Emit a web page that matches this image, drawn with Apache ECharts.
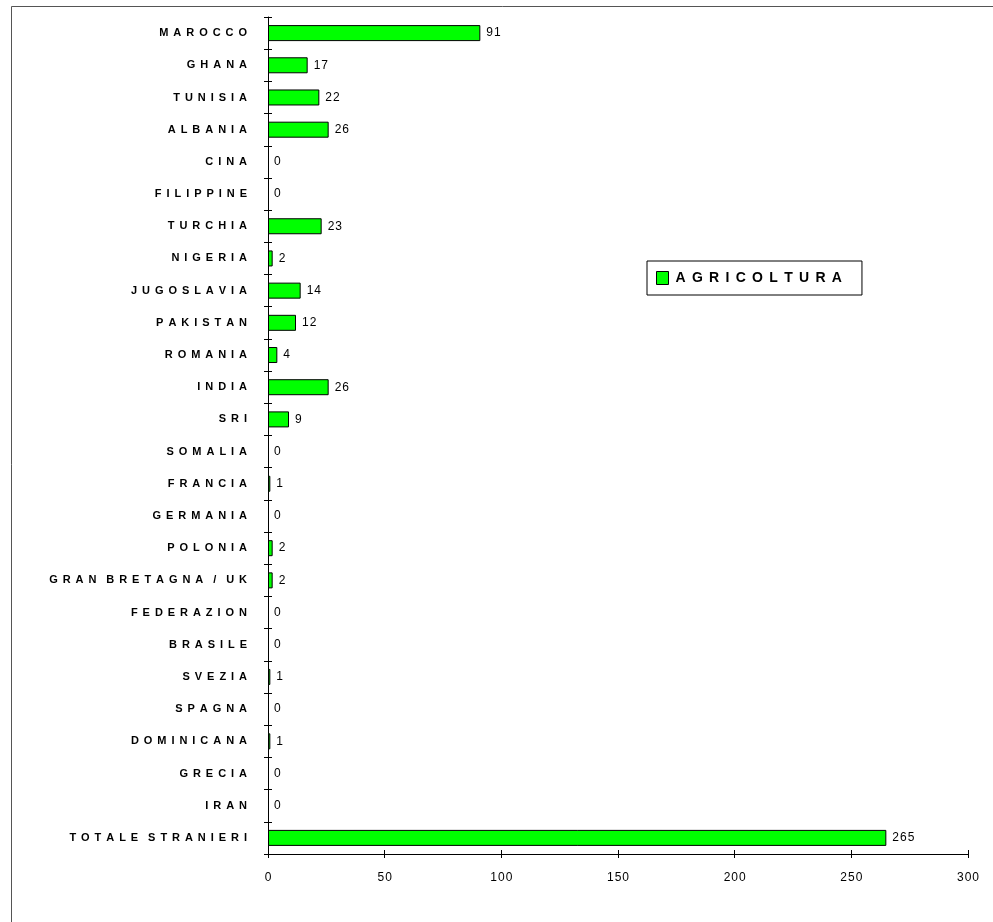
<!DOCTYPE html>
<html>
<head>
<meta charset="utf-8">
<script src="https://cdn.jsdelivr.net/npm/echarts@6/dist/echarts.min.js"></script>
<style>html,body{margin:0;padding:0;background:#fff}#c{width:993px;height:922px}</style>
</head>
<body>
<div id="c"></div>
<script>
const categories = ["MAROCCO","GHANA","TUNISIA","ALBANIA","CINA","FILIPPINE","TURCHIA","NIGERIA","JUGOSLAVIA","PAKISTAN","ROMANIA","INDIA","SRI","SOMALIA","FRANCIA","GERMANIA","POLONIA","GRAN BRETAGNA / UK","FEDERAZION","BRASILE","SVEZIA","SPAGNA","DOMINICANA","GRECIA","IRAN","TOTALE STRANIERI"];
const agricoltura = [91,17,22,26,0,0,23,2,14,12,4,26,9,0,1,0,2,2,0,0,1,0,1,0,0,265];
const seriesName = "AGRICOLTURA";
const xTicks = {min:0, max:300, interval:50};

const spaced = (s, gap) => s.split(' ').map(w => w.split('').join(gap)).join(gap + gap);
const font = 'Arial, "Liberation Sans", sans-serif';
const chart = echarts.init(document.getElementById('c'), null, {renderer:'canvas'});
const catAxisBase = {
  type:'category', data:categories, inverse:true,
  axisLine:{show:true, lineStyle:{color:'#000', width:1}},
  splitLine:{show:false}
};
chart.setOption({
  animation:false,
  backgroundColor:'#fff',
  grid:{left:268, right:25, top:17, bottom:68, containLabel:false},
  graphic:[{type:'rect', shape:{x:11.5, y:6.5, width:1200, height:1200}, style:{fill:'none', stroke:'#555', lineWidth:1}, silent:true}],
  legend:{
    data:[seriesName], left:647, top:261, orient:'horizontal',
    borderColor:'#000', borderWidth:1, padding:[10,20,10,9],
    itemWidth:12, itemHeight:13, itemGap:0,
    icon:'rect',
    itemStyle:{borderColor:'#000', borderWidth:1},
    formatter: n => spaced(n, '\u2005\u2009'),
    textStyle:{fontFamily:font, fontWeight:'bold', fontSize:14, color:'#000', padding:[0,0,0,2]}
  },
  xAxis:[{
    type:'value', min:xTicks.min, max:xTicks.max, interval:xTicks.interval,
    axisLine:{show:true, lineStyle:{color:'#000'}},
    axisTick:{show:true, length:4, lineStyle:{color:'#000'}},
    splitLine:{show:false},
    axisLabel:{fontFamily:font, fontSize:12, color:'#000', margin:18, formatter: v => String(v).split('').join('\u200a')}
  },{
    type:'value', position:'bottom', min:xTicks.min, max:xTicks.max, interval:xTicks.interval,
    axisLine:{show:false}, axisTick:{show:true, inside:true, length:4, lineStyle:{color:'#000'}},
    splitLine:{show:false}, axisLabel:{show:false}
  }],
  yAxis:[Object.assign({}, catAxisBase, {
    axisTick:{show:true, length:4, lineStyle:{color:'#000'}},
    axisLabel:{fontFamily:font, fontWeight:'bold', fontSize:11, color:'#000', margin:21, formatter: v => spaced(v, '\u2005\u2009')}
  }), Object.assign({}, catAxisBase, {
    position:'left', axisLine:{show:false},
    axisTick:{show:true, inside:true, length:4, lineStyle:{color:'#000'}},
    axisLabel:{show:false}
  })],
  series:[{
    name:seriesName, type:'bar', barWidth:16,
    data: agricoltura.map(v => v === 0 ? {value:v, itemStyle:{borderWidth:0}} : v),
    itemStyle:{color:'#00ff00', borderColor:'#000', borderWidth:1},
    label:{show:true, position:'right', distance:6, fontFamily:font, fontSize:12, color:'#000',
      formatter: p => String(p.value).split('').join('\u200a')}
  }]
});
</script>
</body>
</html>
